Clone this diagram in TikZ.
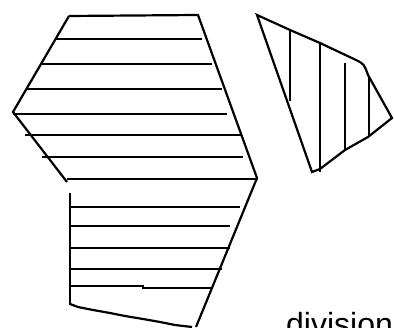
\documentclass[tikz,border=0pt]{standalone}
\usepackage{fontspec}
\setmainfont{Liberation Sans}
\begin{document}
\begin{tikzpicture}[x=1pt,y=-1pt,
  shp/.style={line width=2.2pt,line join=miter,line cap=butt},
  hatch/.style={line width=2.2pt}]
\useasboundingbox (0,0) rectangle (394,328);
% left big shape, upper part
\draw[shp] (69,16) -- (198,15) -- (257,178) -- (196,327);
\draw[shp] (69,16) -- (13,112) -- (67,182);
\foreach \y/\a/\b in {39/55/202, 64/42/212, 89/26/222, 114/13/227, 135/25/242, 157/42/243, 179/67/258}
  \draw[hatch] (\a,\y) -- (\b,\y);
% lower part
\draw[shp] (70,193) -- (70,305);
\draw[shp] (70,304) -- (78,307) -- (93,310) -- (110,313) -- (125,316) -- (143,319) -- (160,322) -- (175,325) -- (192,327);
\foreach \y/\b in {207/240, 226/230, 248/230, 269/222}
  \draw[hatch] (70,\y) -- (\b,\y);
\draw[hatch] (70,286) -- (143,286) -- (143,288) -- (213,288);
% right shape
\draw[shp] (257,15) -- (290,30) -- (320,43) -- (356,60) .. controls (364,64) .. (368,75) -- (392,118) -- (368,137) -- (345,150) -- (320,169) -- (312,172) -- cycle;
\draw[hatch] (290,30) -- (290,101);
\draw[hatch] (320,43) -- (320,172);
\draw[hatch] (345,63) -- (345,150);
\draw[hatch] (369,76) -- (369,137);
% caption, cut off at the lower edge as in the reference
\node[anchor=base west,inner sep=0pt,font=\fontsize{32}{36}\selectfont] (cap) at (286,336) {division};
\end{tikzpicture}
\end{document}
